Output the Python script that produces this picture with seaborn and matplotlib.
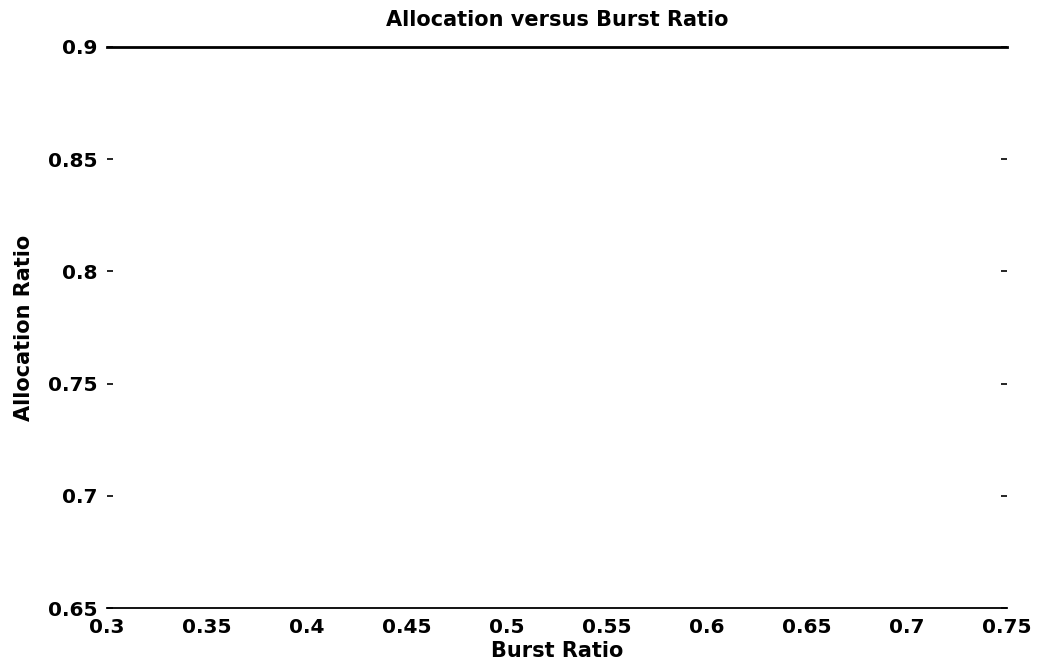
import matplotlib
matplotlib.use("Agg")
import matplotlib.pyplot as plt
import seaborn as sns
import pandas as pd

# Axis ranges and tick labels
x_ticks = [0.3, 0.35, 0.4, 0.45, 0.5, 0.55, 0.6, 0.65, 0.7, 0.75]
x_tick_labels = ["0.3", "0.35", "0.4", "0.45", "0.5", "0.55", "0.6", "0.65", "0.7", "0.75"]
y_ticks = [0.65, 0.7, 0.75, 0.8, 0.85, 0.9]
y_tick_labels = ["0.65", "0.7", "0.75", "0.8", "0.85", "0.9"]

# Series values (no plotted samples)
burst_ratio = []
allocation_ratio = []

sns.set_style("white")
plt.rcParams["font.family"] = ["DejaVu Sans"]
plt.rcParams["font.weight"] = "bold"

fig = plt.figure(figsize=(10.41, 6.69), dpi=100)
ax = fig.add_axes([0.103, 0.091, 0.864, 0.839])

df = pd.DataFrame({"Burst Ratio": pd.Series(burst_ratio, dtype=float),
                   "Allocation Ratio": pd.Series(allocation_ratio, dtype=float)})
sns.lineplot(data=df, x="Burst Ratio", y="Allocation Ratio", ax=ax, color="black")

ax.set_xlim(0.3, 0.75)
ax.set_ylim(0.65, 0.9)
ax.set_xticks(x_ticks)
ax.set_xticklabels(x_tick_labels, fontsize=14.5, fontweight="bold", color="black")
ax.set_yticks(y_ticks)
ax.set_yticklabels(y_tick_labels, fontsize=14.5, fontweight="bold", color="black")

ax.tick_params(axis="x", direction="in", length=0, pad=7)
ax.tick_params(axis="y", direction="in", length=4, width=1.2, pad=7,
               left=True, right=True, color="black")

for side in ("left", "right"):
    ax.spines[side].set_visible(False)
ax.spines["top"].set_linewidth(2.0)
ax.spines["top"].set_color("black")
ax.spines["bottom"].set_linewidth(1.3)
ax.spines["bottom"].set_color("black")

ax.set_title("Allocation versus Burst Ratio", fontsize=15, fontweight="bold",
             color="black", pad=15)
ax.set_xlabel("Burst Ratio", fontsize=15, fontweight="bold", color="black", labelpad=3)
ax.set_ylabel("Allocation Ratio", fontsize=15, fontweight="bold", color="black", labelpad=10)

fig.savefig("out.png", dpi=100)
